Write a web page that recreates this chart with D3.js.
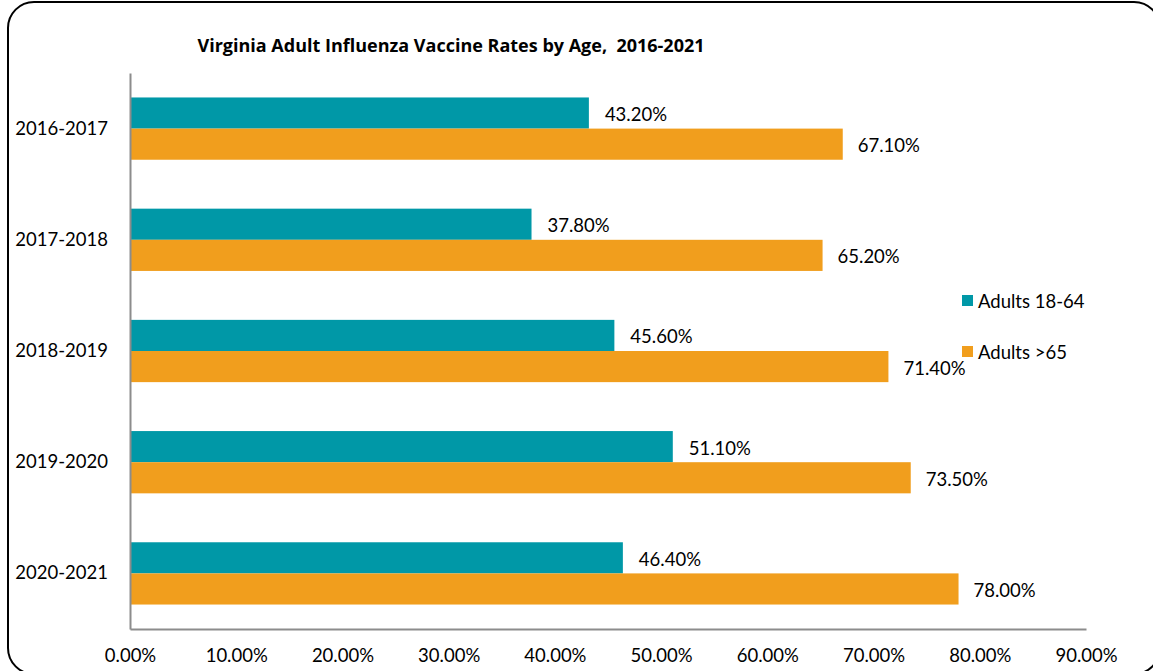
<!DOCTYPE html>
<html>
<head>
<meta charset="utf-8">
<script src="https://cdn.jsdelivr.net/npm/d3@7"></script>
<style>
  body { margin: 0; background: #fff; }
  svg { display: block; font-family: Lato, "Open Sans", sans-serif; }
</style>
</head>
<body>
<svg></svg>
<script>
// chart data
const seasons = ["2016-2017", "2017-2018", "2018-2019", "2019-2020", "2020-2021"]
const adults1864 = [43.2, 37.8, 45.6, 51.1, 46.4]
const adults65 = [67.1, 65.2, 71.4, 73.5, 78.0]
const seriesNames = ["Adults 18-64", "Adults >65"]
const xTicks = [0, 10, 20, 30, 40, 50, 60, 70, 80, 90]

const colors = ["#0098a7", "#f19e1d"]

const svgWidth = 1153
const svgHeight = 671

const svg = d3.select('svg')
    .attr("width", svgWidth)
    .attr("height", svgHeight)

// rounded frame round the whole chart, runs a bit past the right and bottom edge
svg.append('rect')
    .attr('x', 8)
    .attr('y', 2)
    .attr('width', 1152)
    .attr('height', 672)
    .attr('rx', 26)
    .attr('fill', 'none')
    .attr('stroke', '#000')
    .attr('stroke-width', 2)

// plot area (top is a window global, so plotTop etc)
const plotLeft = 130, plotRight = 1086, plotTop = 73, plotBottom = 629

const xScale = d3.scaleLinear()
    .domain([0, 90])
    .range([plotLeft, plotRight])

const yScale = d3.scaleBand()
    .domain(seasons)
    .range([plotTop, plotBottom])
    .paddingInner(0.44)
    .paddingOuter(0.22)

const subScale = d3.scaleBand()
    .domain([0, 1])
    .range([0, yScale.bandwidth()])

// rows: one entry per season with both values
const rows = seasons.map((s, i) => ({season: s, values: [adults1864[i], adults65[i]]}))

const groups = svg.selectAll('g.season')
    .data(rows)
    .enter()
    .append('g')
    .attr('class', 'season')
    .attr('transform', d => `translate(0, ${yScale(d.season)})`)

groups.selectAll('rect')
    .data(d => d.values.map((v, k) => ({value: v, k: k})))
    .enter()
    .append('rect')
    .attr('x', xScale(0))
    .attr('y', d => subScale(d.k))
    .attr('width', d => xScale(d.value) - xScale(0))
    .attr('height', subScale.bandwidth())
    .attr('fill', d => colors[d.k])

// value labels next to the bar ends
groups.selectAll('text')
    .data(d => d.values.map((v, k) => ({value: v, k: k})))
    .enter()
    .append('text')
    .attr('x', d => xScale(d.value) + (d.k === 0 ? 16 : 15))
    .attr('y', d => subScale(d.k) + subScale.bandwidth() / 2 + 1)
    .attr('dominant-baseline', 'central')
    .style('font-size', '18.5px')
    .attr('fill', '#000')
    .text(d => d.value.toFixed(2) + '%')

// y axis: category labels, no ticks
const yAxis = svg.append('g')
    .attr('transform', `translate(${plotLeft}, 0)`)
    .call(d3.axisLeft(yScale).tickSize(0).tickPadding(22))
yAxis.select('.domain').attr('stroke', '#8c8c8c').attr('stroke-width', 2)
yAxis.selectAll('text')
    .style('font-size', '18.5px')
    .style('font-family', 'Lato, "Open Sans", sans-serif')
    .attr('fill', '#000')

// x axis: percent labels, no ticks
const xAxis = svg.append('g')
    .attr('transform', `translate(0, ${plotBottom})`)
    .call(d3.axisBottom(xScale).tickValues(xTicks).tickSize(0).tickPadding(20)
        .tickFormat(d => d.toFixed(2) + '%'))
xAxis.select('.domain').attr('stroke', '#8c8c8c').attr('stroke-width', 2)
xAxis.selectAll('text')
    .style('font-size', '18.5px')
    .style('font-family', 'Lato, "Open Sans", sans-serif')
    .attr('fill', '#000')

//title
svg.append('text')
    .attr('x', 451)
    .attr('y', 52)
    .attr('text-anchor', 'middle')
    .style('font-family', '"Open Sans", Lato, sans-serif')
    .style('font-size', '18px')
    .style('font-weight', 'bold')
    .style('white-space', 'pre')
    .attr('fill', '#000')
    .text('Virginia Adult Influenza Vaccine Rates by Age,  2016-2021')

// legend
const legend = svg.selectAll('g.legend')
    .data(seriesNames)
    .enter()
    .append('g')
    .attr('class', 'legend')
    .attr('transform', (d, i) => `translate(962, ${295 + i * 51})`)

legend.append('rect')
    .attr('width', 11)
    .attr('height', 11)
    .attr('fill', (d, i) => colors[i])

legend.append('text')
    .attr('x', 16)
    .attr('y', 6)
    .attr('dominant-baseline', 'central')
    .style('font-size', '18.5px')
    .attr('fill', '#000')
    .text(d => d)
</script>
</body>
</html>
